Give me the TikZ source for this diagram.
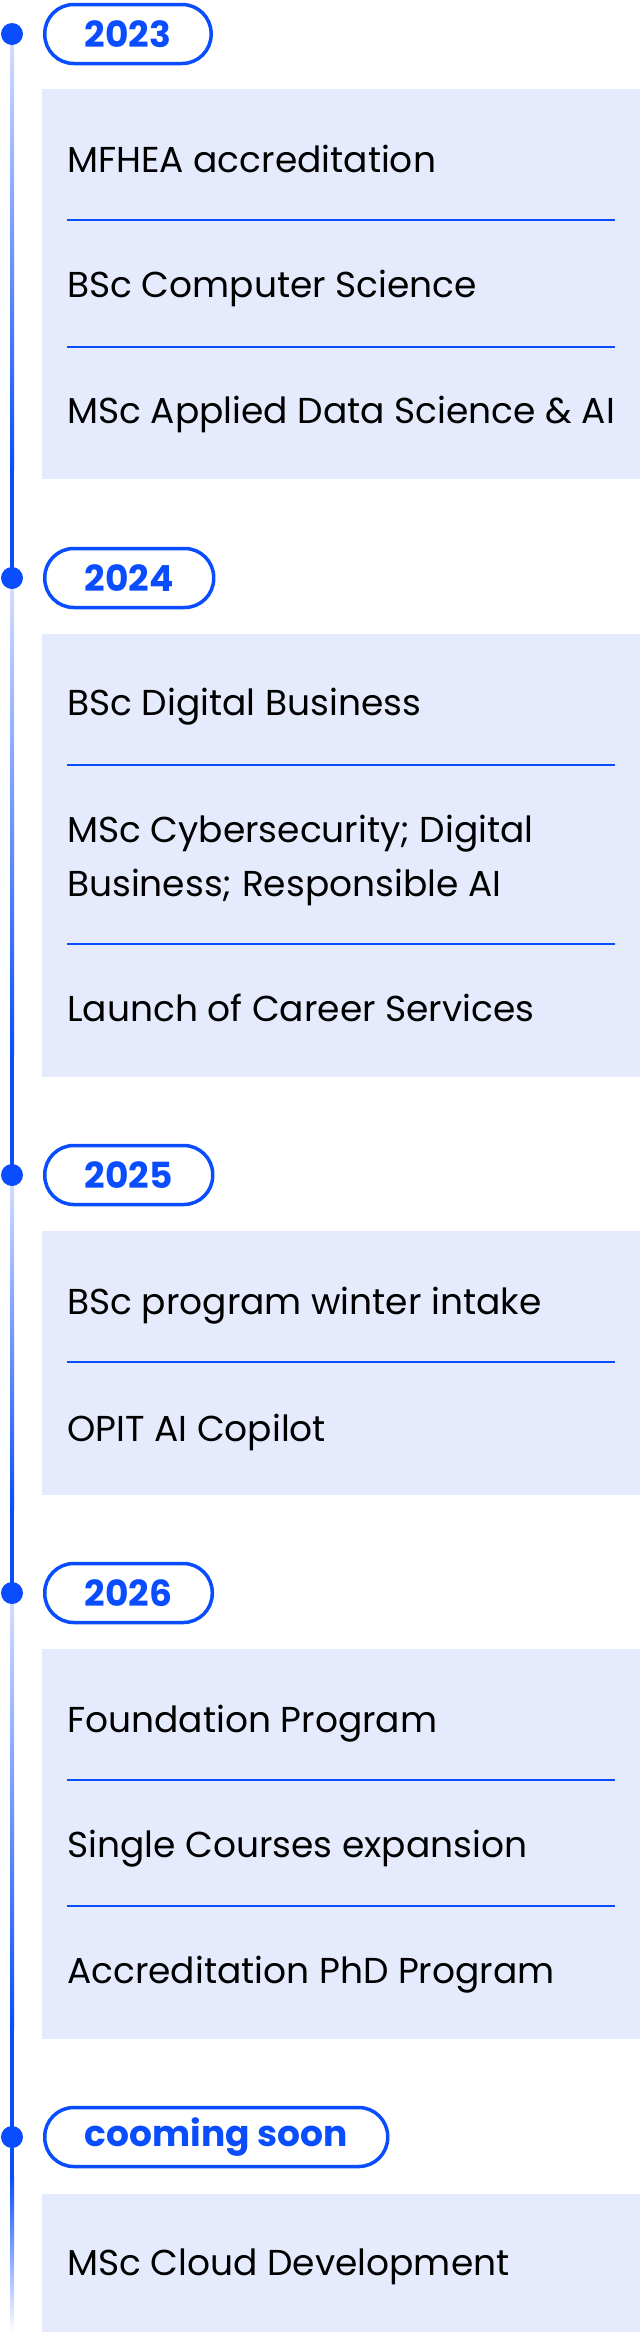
\documentclass[tikz,border=0pt]{standalone}
\usepackage{fontspec}
\setmainfont{Poppins}
\usetikzlibrary{calc}
\definecolor{tlblue}{HTML}{0A4DFF}
\definecolor{tlpale}{HTML}{D6E0FC}
\definecolor{boxfill}{HTML}{E5EBFD}
\tikzset{
  item/.style={anchor=base west, inner sep=0pt, align=left, text=black,
    font=\fontsize{36}{53.5}\selectfont},
  pill/.style={draw=tlblue, line width=3.5pt, rounded corners=29pt, minimum height=59pt,
    inner xsep=40pt, anchor=west, text=tlblue, font=\fontsize{36}{40}\selectfont\bfseries},
  tbox/.style={fill=boxfill, inner sep=0pt, minimum width=598pt, anchor=north west},
  divider/.style={draw=tlblue, line width=1.6pt},
  tdot/.style={circle, fill=tlblue, inner sep=0pt, minimum size=22pt},
}
\begin{document}
\begin{tikzpicture}[x=1pt,y=-1pt]
\useasboundingbox (0,0) rectangle (640,2332);

% timeline line segments
\coordinate (y1) at (12,34);
\coordinate (y2) at (12,578);
\coordinate (y3) at (12,1175);
\coordinate (y4) at (12,1593);
\coordinate (y5) at (12,2137);
\coordinate (yend) at (12,2332);
\foreach \a/\b in {y1/y2,y2/y3,y3/y4,y4/y5}{
  \shade[top color=tlpale, bottom color=tlblue] ($(\a)+(-2,0)$) rectangle ($(\a)!0.8!(\b)+(2,0)$);
  \fill[tlblue] ($(\a)!0.8!(\b)+(-2,0)$) rectangle ($(\b)+(2,0)$);
}
\fill[tlblue] ($(y5)+(-2,0)$) rectangle ($(y5)+(2,40)$);
\shade[top color=tlblue, bottom color=white] ($(y5)+(-2,40)$) rectangle ($(yend)+(2,0)$);

% dots
\node[tdot] (d1) at (y1) {};
\node[tdot] (d2) at (y2) {};
\node[tdot] (d3) at (y3) {};
\node[tdot] (d4) at (y4) {};
\node[tdot] (d5) at (y5) {};

% pills
\node[pill] (p1) at (43,34) {2023};
\node[pill] (p2) at (43,578) {2024};
\node[pill] (p3) at (43,1175) {2025};
\node[pill] (p4) at (43,1593) {2026};
\node[pill] (p5) at (43,2137) {cooming soon};

% boxes
\node[tbox, minimum height=390pt] (b1) at (42,89) {};
\node[tbox, minimum height=443pt] (b2) at (42,634) {};
\node[tbox, minimum height=264pt] (b3) at (42,1231) {};
\node[tbox, minimum height=390pt] (b4) at (42,1649) {};
\node[tbox, minimum height=138pt] (b5) at (42,2194) {};

% 2023
\node[item] (t11) at (67,172) {MFHEA accreditation};
\draw[divider] (67,220) -- (615,220);
\node[item] (t12) at (67,297) {BSc Computer Science};
\draw[divider] (67,347) -- (615,347);
\node[item] (t13) at (67,423) {MSc Applied Data Science \& AI};

% 2024
\node[item] (t21) at (67,715) {BSc Digital Business};
\draw[divider] (67,765) -- (615,765);
\node[item] (t22) at (67,896) {MSc Cybersecurity; Digital\\Business; Responsible AI};
\draw[divider] (67,944) -- (615,944);
\node[item] (t23) at (67,1021) {Launch of Career Services};

% 2025
\node[item] (t31) at (67,1314) {BSc program winter intake};
\draw[divider] (67,1362) -- (615,1362);
\node[item] (t32) at (67,1441) {OPIT AI Copilot};

% 2026
\node[item] (t41) at (67,1732) {Foundation Program};
\draw[divider] (67,1780) -- (615,1780);
\node[item] (t42) at (67,1857) {Single Courses expansion};
\draw[divider] (67,1906) -- (615,1906);
\node[item] (t43) at (67,1983) {Accreditation PhD Program};

% coming soon
\node[item] (t51) at (67,2275) {MSc Cloud Development};
\end{tikzpicture}
\end{document}
